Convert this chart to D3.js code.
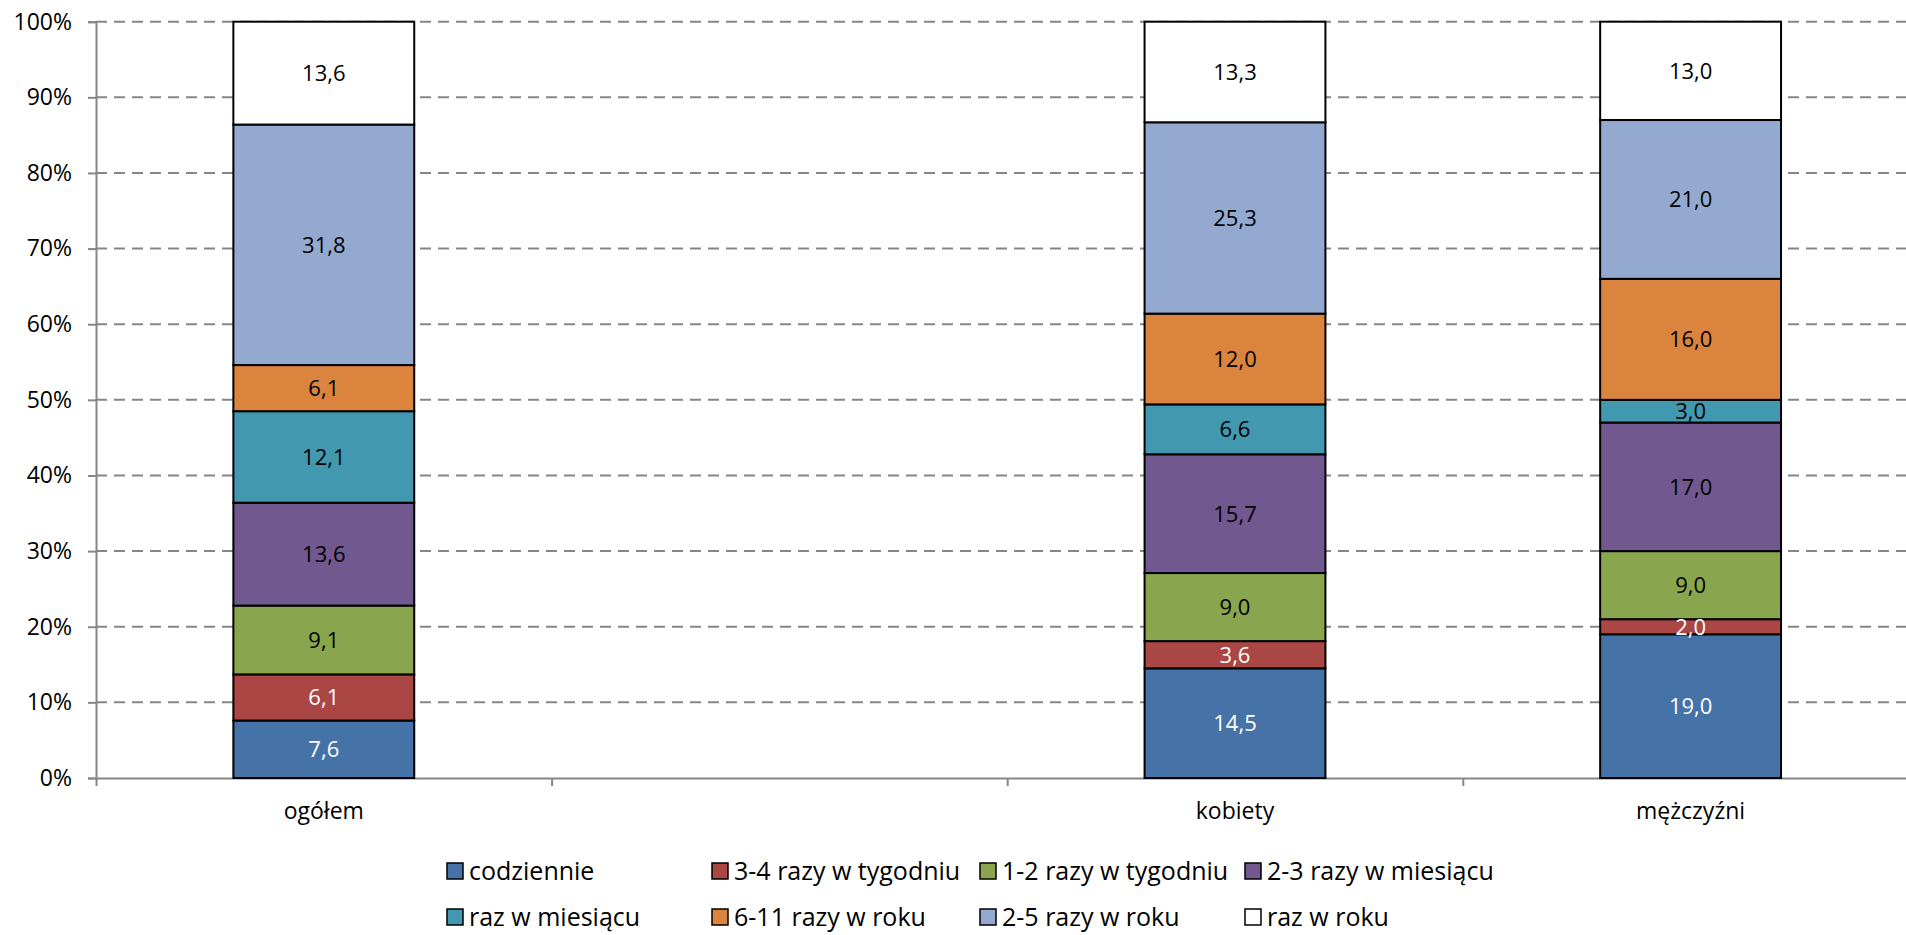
<!DOCTYPE html>
<html>
<head>
<meta charset="utf-8">
<script src="https://cdn.jsdelivr.net/npm/d3@7"></script>
<style>
  html, body { margin: 0; padding: 0; background: #fff; overflow: hidden; }
  svg { display: block; font-family: "Open Sans", sans-serif; }
</style>
</head>
<body>
<svg id="chart" width="1906" height="935"></svg>
<script>
// ---- data ----
const categories = ["ogółem", "", "kobiety", "mężczyźni"];
const seriesNames = ["codziennie", "3-4 razy w tygodniu", "1-2 razy w tygodniu", "2-3 razy w miesiącu",
                     "raz w miesiącu", "6-11 razy w roku", "2-5 razy w roku", "raz w roku"];
const codziennie      = [7.6, null, 14.5, 19.0];
const razy34Tydzien   = [6.1, null, 3.6, 2.0];
const razy12Tydzien   = [9.1, null, 9.0, 9.0];
const razy23Miesiac   = [13.6, null, 15.7, 17.0];
const razWMiesiacu    = [12.1, null, 6.6, 3.0];
const razy611Rok      = [6.1, null, 12.0, 16.0];
const razy25Rok       = [31.8, null, 25.3, 21.0];
const razWRoku        = [13.6, null, 13.3, 13.0];
const seriesValues = [codziennie, razy34Tydzien, razy12Tydzien, razy23Miesiac,
                      razWMiesiacu, razy611Rok, razy25Rok, razWRoku];
const yTicks = [0, 10, 20, 30, 40, 50, 60, 70, 80, 90, 100];

const colors = ["#4572A7", "#AA4643", "#89A54E", "#71588F", "#4198AF", "#DB843D", "#93A9CF", "#FFFFFF"];
const labelColors = ["#fff", "#fff", "#000", "#000", "#000", "#000", "#000", "#000"];

// ---- layout ----
const svg = d3.select("#chart");
const plotLeft = 96, plotTop = 21.7, plotBottom = 778;
const slotW = 455.6;
const plotRight = plotLeft + slotW * categories.length;

const x = d3.scaleBand().domain(d3.range(categories.length)).range([plotLeft, plotRight]).padding(0);
const y = d3.scaleLinear().domain([0, 100]).range([plotBottom, plotTop]);
const barW = x.bandwidth() * 0.397;
const grey = "#868686";

// gridlines
svg.append("g").selectAll("line").data(yTicks.filter(d => d > 0)).join("line")
  .attr("x1", plotLeft).attr("x2", 1906)
  .attr("y1", d => y(d)).attr("y2", d => y(d))
  .attr("stroke", grey).attr("stroke-width", 2).attr("stroke-dasharray", "11,7");

// y axis
const yAxis = svg.append("g").attr("transform", `translate(${plotLeft},0)`)
  .call(d3.axisLeft(y).tickValues(yTicks).tickFormat(d => d + "%").tickSize(8).tickPadding(16));
yAxis.select(".domain").attr("stroke", grey).attr("stroke-width", 2);
yAxis.selectAll(".tick line").attr("stroke", grey).attr("stroke-width", 2);
yAxis.selectAll("text").attr("font-size", 23).attr("fill", "#000").attr("font-family", "Open Sans");

// x axis: ticks at slot boundaries
const xb = d3.scaleLinear().domain([0, categories.length]).range([plotLeft, plotRight]);
const xAxis = svg.append("g").attr("transform", `translate(0,${plotBottom})`)
  .call(d3.axisBottom(xb).tickValues(d3.range(categories.length + 1)).tickFormat("").tickSize(8).tickSizeOuter(0));
xAxis.select(".domain").attr("stroke", grey).attr("stroke-width", 2);
xAxis.selectAll(".tick line").attr("stroke", grey).attr("stroke-width", 2);

// category labels
svg.append("g").selectAll("text").data(categories).join("text")
  .attr("x", (d, i) => x(i) + x.bandwidth() / 2)
  .attr("y", 819)
  .attr("text-anchor", "middle")
  .attr("font-size", 23)
  .attr("fill", "#000")
  .text(d => d);

// stacked bars
const stacked = [];
categories.forEach((c, i) => {
  let acc = 0;
  seriesValues.forEach((vals, s) => {
    const v = vals[i];
    if (v == null) return;
    stacked.push({ i, s, y0: acc, y1: acc + v, v });
    acc += v;
  });
});

const bars = svg.append("g");
bars.selectAll("rect").data(stacked).join("rect")
  .attr("x", d => x(d.i) + (x.bandwidth() - barW) / 2)
  .attr("width", barW)
  .attr("y", d => y(d.y1))
  .attr("height", d => y(d.y0) - y(d.y1))
  .attr("fill", d => colors[d.s])
  .attr("stroke", "#000")
  .attr("stroke-width", 2);

bars.selectAll("text").data(stacked).join("text")
  .attr("x", d => x(d.i) + x.bandwidth() / 2)
  .attr("y", d => (y(d.y0) + y(d.y1)) / 2)
  .attr("dy", "0.36em")
  .attr("text-anchor", "middle")
  .attr("font-size", 22)
  .attr("fill", d => labelColors[d.s])
  .text(d => d3.format(".1f")(d.v).replace(".", ","));

// legend
const legX = [447, 712, 980, 1245];
const legY = [871, 917];
const leg = svg.append("g").selectAll("g").data(seriesNames).join("g")
  .attr("transform", (d, k) => `translate(${legX[k % 4]},${legY[Math.floor(k / 4)]})`);
leg.append("rect").attr("x", 0).attr("y", -8).attr("width", 16).attr("height", 16)
  .attr("fill", (d, k) => colors[k]).attr("stroke", "#000").attr("stroke-width", 1.5);
leg.append("text").attr("x", 22).attr("y", 0).attr("dy", "0.36em")
  .attr("font-size", 25).attr("fill", "#000").text(d => d);
</script>
</body>
</html>
